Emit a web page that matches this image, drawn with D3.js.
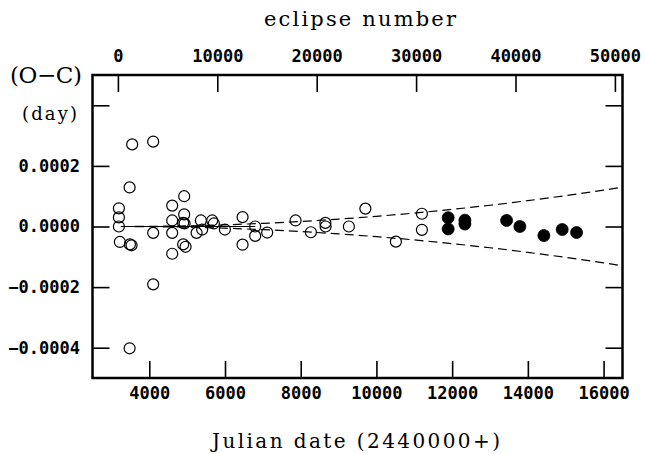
<!DOCTYPE html>
<html><head><meta charset="utf-8">
<script src="https://cdn.jsdelivr.net/npm/d3@7"></script>
<style>body{margin:0;background:#fff}svg{display:block}</style>
</head><body><svg id="c" width="645" height="454"></svg>
<script>
// Open circles: older timings (JD - 2440000, O-C in days)
const openJD = [3197,3197,3197,3223,3488,3532,3548,3480,3480,4103,4103,4103,
  4605,4605,4605,4605,4922,4922,4895,4932,4895,4959,5249,5363,5397,5662,5706,5997,
  6464,6464,6797,6797,7114,7864,8269,8652,8657,9272,9708,10514,11201,11201];
const openOC = [0.000060,0.000030,0.000000,-0.000051,-0.000059,-0.000062,0.000271,0.000129,-0.000402,0.000280,-0.000021,-0.000191,
  0.000069,0.000020,-0.000021,-0.000090,0.000100,0.000040,0.000012,0.000010,-0.000059,-0.000067,-0.000021,0.000020,-0.000010,0.000020,0.000010,-0.000010,
  0.000031,-0.000060,0.000000,-0.000031,-0.000020,0.000020,-0.000019,0.000012,0.000000,0.000000,0.000059,-0.000050,0.000042,-0.000011];
// Filled circles: new timings
const filledJD = [11895,11895,12337,12337,13438,13789,14423,14907,15287];
const filledOC = [0.000029,-0.000008,0.000021,0.000008,0.000020,0.000000,-0.000030,-0.000010,-0.000020];
// Solid reference line
const lineJD = [3420,6800];
const lineOC = [0,0];
// Dashed error envelope
const envJD = [3250,4000,5000,6000,7000,8000,9000,10000,11000,12000,13000,14000,15000,16000,16500];
const envUpper = [0,0.00000042,0.00000226,0.00000559,0.00001039,0.00001667,0.00002442,0.00003366,0.00004437,0.00005656,0.00007022,0.00008537,0.00010199,0.00012009,0.00012969];
const envLower = [0,-0.00000042,-0.00000226,-0.00000559,-0.00001039,-0.00001667,-0.00002442,-0.00003366,-0.00004437,-0.00005656,-0.00007022,-0.00008537,-0.00010199,-0.00012009,-0.00012969];
// Axes
const jdTicks = [4000,6000,8000,10000,12000,14000,16000];
const ocTicks = [-0.0004,-0.0002,0,0.0002,0.0004];
const ocTickLabels = ["\u22120.0004","\u22120.0002","0.0000","0.0002",""];
const eclipseTicks = [0,10000,20000,30000,40000,50000];
const epochJD = 3171, periodDays = 0.26256;
const jdDomain = [2500,16500];
const ocDomain = [-0.0005,0.0005];

const svg = d3.select('#c');
const L=92.5,R=622.5,T=75,B=378;
const x = d3.scaleLinear().domain(jdDomain).range([L,R]);
const y = d3.scaleLinear().domain(ocDomain).range([B,T]);
const xE = d3.scaleLinear().domain(jdDomain.map(d=>(d-epochJD)/periodDays)).range([L,R]);

const tickFont = "'DejaVu Sans Mono', monospace";
function styleAxis(g){
  g.select('.domain').remove();
  g.selectAll('.tick line').attr('stroke','#000').attr('stroke-width',1.6);
  g.selectAll('.tick text').attr('font-family',tickFont).attr('font-weight','bold').attr('font-size',17).attr('fill','#000');
}
svg.append('g').attr('transform',`translate(0,${B})`)
  .call(d3.axisBottom(x).tickValues(jdTicks).tickSize(-17).tickSizeOuter(0).tickPadding(8.5).tickFormat(d3.format('d')))
  .call(styleAxis);
svg.append('g').attr('transform',`translate(0,${T})`)
  .call(d3.axisTop(xE).tickValues(eclipseTicks).tickSize(-17).tickSizeOuter(0).tickPadding(13).tickFormat(d3.format('d')))
  .call(styleAxis);
svg.append('g').attr('transform',`translate(${L},0)`)
  .call(d3.axisLeft(y).tickValues(ocTicks).tickSize(-17).tickSizeOuter(0).tickPadding(12.5).tickFormat((d,i)=>ocTickLabels[i]))
  .call(styleAxis);
svg.append('g').attr('transform',`translate(${R},0)`)
  .call(d3.axisRight(y).tickValues(ocTicks).tickSize(-17).tickSizeOuter(0).tickFormat(''))
  .call(styleAxis);

// lines
const lineGen = d3.line().x(d=>x(d[0])).y(d=>y(d[1]));
svg.append('path').attr('d',lineGen(lineJD.map((d,i)=>[d,lineOC[i]])))
  .attr('fill','none').attr('stroke','#000').attr('stroke-width',1.2);
const envGen = d3.line().x(d=>x(d[0])).y(d=>y(d[1])).curve(d3.curveMonotoneX);
[envUpper,envLower].forEach(arr=>{
  svg.append('path').attr('d',envGen(envJD.map((d,i)=>[d,arr[i]])))
    .attr('fill','none').attr('stroke','#000').attr('stroke-width',1.2).attr('stroke-dasharray','9,5');
});

// points
svg.append('g').selectAll('circle').data(openJD.map((d,i)=>[d,openOC[i]])).join('circle')
  .attr('cx',d=>x(d[0])).attr('cy',d=>y(d[1])).attr('r',5.5)
  .attr('fill','none').attr('stroke','#000').attr('stroke-width',1.2);
svg.append('g').selectAll('circle').data(filledJD.map((d,i)=>[d,filledOC[i]])).join('circle')
  .attr('cx',d=>x(d[0])).attr('cy',d=>y(d[1])).attr('r',6)
  .attr('fill','#000').attr('stroke','#000').attr('stroke-width',0.8);

// frame
svg.append('rect').attr('x',L).attr('y',T).attr('width',R-L).attr('height',B-T)
  .attr('fill','none').attr('stroke','#000').attr('stroke-width',2.5);

// titles
const serif = "'DejaVu Serif', serif";
svg.append('text').attr('x',360).attr('y',26).attr('text-anchor','middle')
  .attr('font-family',serif).attr('font-size',21).attr('textLength',192).attr('lengthAdjust','spacing').text('eclipse number');
svg.append('text').attr('x',356).attr('y',448).attr('text-anchor','middle')
  .attr('font-family',serif).attr('font-size',20).attr('textLength',288).attr('lengthAdjust','spacing').text('Julian date (2440000+)');
svg.append('text').attr('x',10).attr('y',83).attr('font-family',serif).attr('font-size',23)
  .attr('textLength',72).attr('lengthAdjust','spacing').text('(O\u2212C)');
svg.append('text').attr('x',22).attr('y',120).attr('font-family',serif).attr('font-size',18)
  .attr('textLength',55).attr('lengthAdjust','spacing').text('(day)');
</script></body></html>
